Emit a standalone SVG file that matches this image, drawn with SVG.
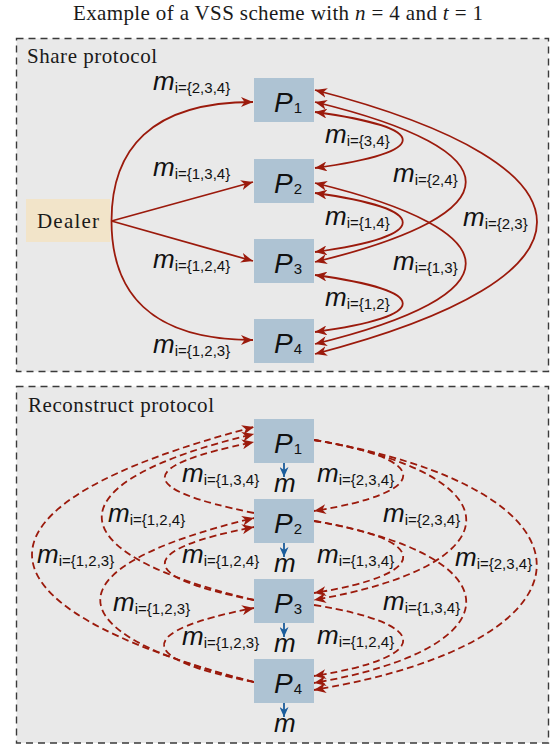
<svg xmlns="http://www.w3.org/2000/svg" width="556" height="745" viewBox="0 0 556 745">
<style>
.bg{fill:#ffffff}
.panel{fill:#e9e9e9;stroke:#3a3a3a;stroke-width:1.4;stroke-dasharray:7,5}
.pbox{fill:#aec3d3}
.dbox{fill:#f2e4c9}
.serif{font-family:"Liberation Serif","Times New Roman",serif;font-size:21px;fill:#1a1a1a}
.pl{font-family:"Liberation Sans",Arial,sans-serif;font-style:italic;font-size:28px;fill:#111}
.ps{font-style:normal;font-size:15px}
.ml{font-family:"Liberation Sans",Arial,sans-serif;fill:#111}
.mi{font-style:italic;font-size:26px}
.ms{font-size:15px}
.e{fill:none;stroke:#9b1a0c;stroke-width:1.8}
.d{stroke-dasharray:7,4}
.b{fill:none;stroke:#1b5c9b;stroke-width:1.8}
</style>
<defs>
<marker id="ar" viewBox="0 0 12 10" refX="12" refY="5" markerWidth="12" markerHeight="10" markerUnits="userSpaceOnUse" orient="auto-start-reverse">
<path d="M0,0 L12,5 L0,10 L3.5,5 Z" fill="#9b1a0c"/>
</marker>
<marker id="ab" viewBox="0 0 10 9" refX="10" refY="4.5" markerWidth="10" markerHeight="9" markerUnits="userSpaceOnUse" orient="auto">
<path d="M0,0 L10,4.5 L0,9 L3,4.5 Z" fill="#1b5c9b"/>
</marker>
</defs>
<rect class="bg" x="0" y="0" width="556" height="745"/>
<text class="serif" x="278" y="20" text-anchor="middle" textLength="410" lengthAdjust="spacing">Example of a VSS scheme with <tspan font-style="italic">n</tspan> = 4 and <tspan font-style="italic">t</tspan> = 1</text>

<g id="share-panel">
<rect class="panel" x="16.5" y="38.5" width="532" height="333"/>
<text class="serif" x="27" y="63" textLength="130" lengthAdjust="spacing">Share protocol</text>
</g>
<g id="reconstruct-panel">
<rect class="panel" x="16.5" y="386.5" width="532" height="356.5"/>
<text class="serif" x="28" y="412" textLength="186" lengthAdjust="spacing">Reconstruct protocol</text>
</g>

<g id="connectors">
<path class="e" d="M111.5,221 C111.5,150 150,102 253,102" marker-end="url(#ar)"/>
<path class="e" d="M111.5,221 L253,182" marker-end="url(#ar)"/>
<path class="e" d="M111.5,221 L253,261" marker-end="url(#ar)"/>
<path class="e" d="M111.5,221 C111.5,292 150,340 253,340" marker-end="url(#ar)"/>
<path class="e" d="M315,112 C432,128 432,152 315,168" marker-start="url(#ar)" marker-end="url(#ar)"/>
<path class="e" d="M315,193 C432,209 432,236 315,252" marker-start="url(#ar)" marker-end="url(#ar)"/>
<path class="e" d="M315,275 C432,291 432,316 315,332" marker-start="url(#ar)" marker-end="url(#ar)"/>
<path class="e" d="M315,102 C516,151 516,213 315,262" marker-start="url(#ar)" marker-end="url(#ar)"/>
<path class="e" d="M315,183 C516,232 516,295 315,344" marker-start="url(#ar)" marker-end="url(#ar)"/>
<path class="e" d="M315,90 C611,167 611,277 315,354" marker-start="url(#ar)" marker-end="url(#ar)"/>
<path class="e d" d="M314,440 C433,459 433,492 314,511" marker-end="url(#ar)"/>
<path class="e d" d="M314,440 C517,475 517,565 314,600" marker-end="url(#ar)"/>
<path class="e d" d="M314,440 C611,490 611,640 314,690" marker-end="url(#ar)"/>
<path class="e d" d="M314,521 C433,540 433,574 314,593" marker-end="url(#ar)"/>
<path class="e d" d="M314,521 C517,556 517,648 314,683" marker-end="url(#ar)"/>
<path class="e d" d="M314,605 C433,624 433,657 314,676" marker-end="url(#ar)"/>
<path class="e d" d="M254,513 C135,489 135,466 254,442" marker-end="url(#ar)"/>
<path class="e d" d="M254,600 C51,552 51,482 254,434" marker-end="url(#ar)"/>
<path class="e d" d="M254,682 C-42,605 -42,504 254,427" marker-end="url(#ar)"/>
<path class="e d" d="M254,600 C135,577 135,550 254,527" marker-end="url(#ar)"/>
<path class="e d" d="M254,682 C49,633 49,567 254,518" marker-end="url(#ar)"/>
<path class="e d" d="M254,682 C134,659 134,631 254,608" marker-end="url(#ar)"/>
<path class="b" d="M284,463 L284,477" marker-end="url(#ab)"/>
<path class="b" d="M284,543 L284,557" marker-end="url(#ab)"/>
<path class="b" d="M284,623 L284,637" marker-end="url(#ab)"/>
<path class="b" d="M284,703 L284,717" marker-end="url(#ab)"/>
</g>

<g id="edge-labels">
<text class="ml" x="153" y="90"><tspan class="mi">m</tspan><tspan class="ms" dy="3">i={2,3,4}</tspan></text>
<text class="ml" x="153" y="176"><tspan class="mi">m</tspan><tspan class="ms" dy="3">i={1,3,4}</tspan></text>
<text class="ml" x="153" y="268"><tspan class="mi">m</tspan><tspan class="ms" dy="3">i={1,2,4}</tspan></text>
<text class="ml" x="153" y="353"><tspan class="mi">m</tspan><tspan class="ms" dy="3">i={1,2,3}</tspan></text>
<text class="ml" x="325" y="143"><tspan class="mi">m</tspan><tspan class="ms" dy="3">i={3,4}</tspan></text>
<text class="ml" x="393" y="182"><tspan class="mi">m</tspan><tspan class="ms" dy="3">i={2,4}</tspan></text>
<text class="ml" x="325" y="225"><tspan class="mi">m</tspan><tspan class="ms" dy="3">i={1,4}</tspan></text>
<text class="ml" x="463" y="226"><tspan class="mi">m</tspan><tspan class="ms" dy="3">i={2,3}</tspan></text>
<text class="ml" x="393" y="270"><tspan class="mi">m</tspan><tspan class="ms" dy="3">i={1,3}</tspan></text>
<text class="ml" x="325" y="306"><tspan class="mi">m</tspan><tspan class="ms" dy="3">i={1,2}</tspan></text>
<text class="ml" x="182" y="482"><tspan class="mi">m</tspan><tspan class="ms" dy="3">i={1,3,4}</tspan></text>
<text class="ml" x="108" y="522"><tspan class="mi">m</tspan><tspan class="ms" dy="3">i={1,2,4}</tspan></text>
<text class="ml" x="37" y="563"><tspan class="mi">m</tspan><tspan class="ms" dy="3">i={1,2,3}</tspan></text>
<text class="ml" x="182" y="563"><tspan class="mi">m</tspan><tspan class="ms" dy="3">i={1,2,4}</tspan></text>
<text class="ml" x="113" y="611"><tspan class="mi">m</tspan><tspan class="ms" dy="3">i={1,2,3}</tspan></text>
<text class="ml" x="182" y="645"><tspan class="mi">m</tspan><tspan class="ms" dy="3">i={1,2,3}</tspan></text>
<text class="ml" x="317" y="482"><tspan class="mi">m</tspan><tspan class="ms" dy="3">i={2,3,4}</tspan></text>
<text class="ml" x="383" y="522"><tspan class="mi">m</tspan><tspan class="ms" dy="3">i={2,3,4}</tspan></text>
<text class="ml" x="455" y="566"><tspan class="mi">m</tspan><tspan class="ms" dy="3">i={2,3,4}</tspan></text>
<text class="ml" x="317" y="563"><tspan class="mi">m</tspan><tspan class="ms" dy="3">i={1,3,4}</tspan></text>
<text class="ml" x="383" y="610"><tspan class="mi">m</tspan><tspan class="ms" dy="3">i={1,3,4}</tspan></text>
<text class="ml" x="317" y="644"><tspan class="mi">m</tspan><tspan class="ms" dy="3">i={1,2,4}</tspan></text>
</g>

<g id="dealer">
<rect class="dbox" x="26" y="199" width="84" height="43"/>
<text class="serif" x="68" y="228" text-anchor="middle" textLength="62" lengthAdjust="spacing">Dealer</text>
</g>
<g id="share-p1"><rect class="pbox" x="254" y="78" width="60" height="44"/><text class="pl" x="274" y="112">P<tspan class="ps" dx="1" dy="1">1</tspan></text></g>
<g id="share-p2"><rect class="pbox" x="254" y="159" width="60" height="44"/><text class="pl" x="274" y="193">P<tspan class="ps" dx="1" dy="1">2</tspan></text></g>
<g id="share-p3"><rect class="pbox" x="254" y="239" width="60" height="44"/><text class="pl" x="274" y="273">P<tspan class="ps" dx="1" dy="1">3</tspan></text></g>
<g id="share-p4"><rect class="pbox" x="254" y="319" width="60" height="44"/><text class="pl" x="274" y="353">P<tspan class="ps" dx="1" dy="1">4</tspan></text></g>
<g id="rec-p1"><rect class="pbox" x="254" y="419" width="60" height="44"/><text class="pl" x="274" y="453">P<tspan class="ps" dx="1" dy="1">1</tspan></text></g>
<g id="rec-p2"><rect class="pbox" x="254" y="499" width="60" height="44"/><text class="pl" x="274" y="533">P<tspan class="ps" dx="1" dy="1">2</tspan></text></g>
<g id="rec-p3"><rect class="pbox" x="254" y="579" width="60" height="44"/><text class="pl" x="274" y="613">P<tspan class="ps" dx="1" dy="1">3</tspan></text></g>
<g id="rec-p4"><rect class="pbox" x="254" y="659" width="60" height="44"/><text class="pl" x="274" y="693">P<tspan class="ps" dx="1" dy="1">4</tspan></text></g>

<g id="outputs">
<text class="ml mi" x="274" y="492">m</text>
<text class="ml mi" x="274" y="572">m</text>
<text class="ml mi" x="274" y="652">m</text>
<text class="ml mi" x="274" y="732">m</text>
</g>
</svg>
